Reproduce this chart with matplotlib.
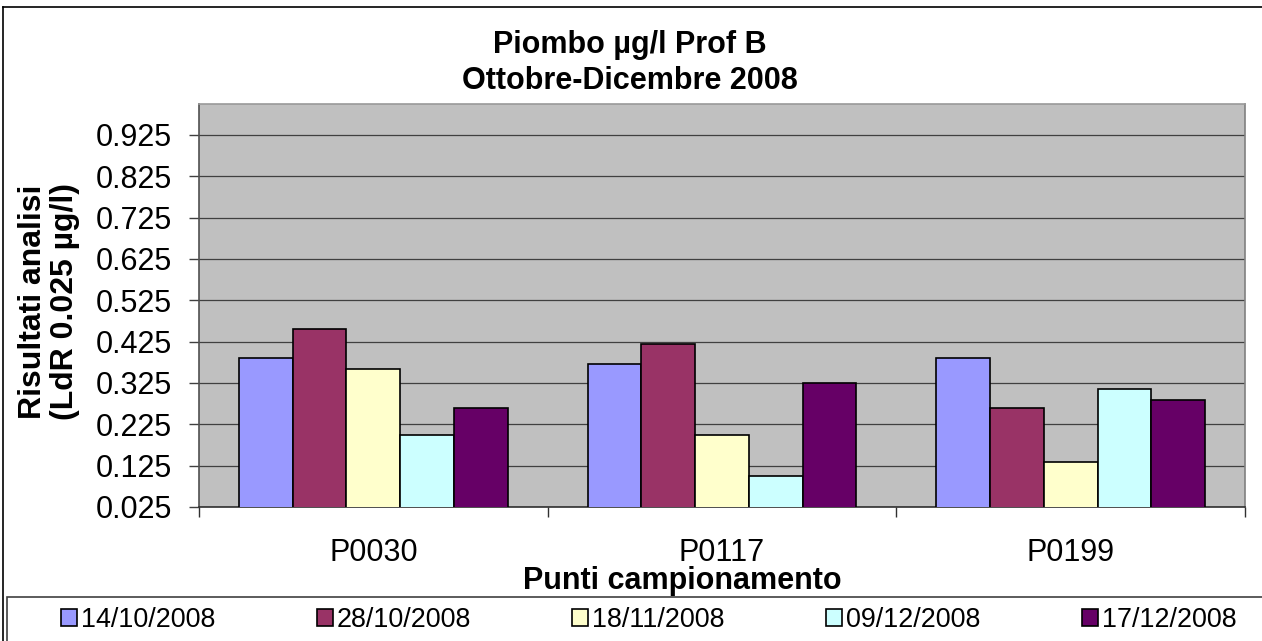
import numpy as np
import matplotlib
matplotlib.use("Agg")
from matplotlib import pyplot as plt
from matplotlib.patches import Rectangle
from matplotlib.lines import Line2D

plt.rcParams['font.family'] = ['Liberation Sans', 'DejaVu Sans']

# data
sites = ['P0030', 'P0117', 'P0199']
dates = ['14/10/2008', '28/10/2008', '18/11/2008', '09/12/2008', '17/12/2008']
val_1410 = [0.385, 0.370, 0.385]
val_2810 = [0.455, 0.420, 0.265]
val_1811 = [0.360, 0.200, 0.135]
val_0912 = [0.200, 0.100, 0.310]
val_1712 = [0.265, 0.325, 0.285]
series = [val_1410, val_2810, val_1811, val_0912, val_1712]
colors = ['#9999FF', '#993366', '#FFFFCC', '#CCFFFF', '#660066']
yticks = [0.025, 0.125, 0.225, 0.325, 0.425, 0.525, 0.625, 0.725, 0.825, 0.925]

W, H = 1262, 641
fig = plt.figure(figsize=(W / 100, H / 100), dpi=100)
ax = fig.add_axes([199 / W, 1 - 507 / H, (1245 - 199) / W, (507 - 104) / H])
ax.set_facecolor('#C0C0C0')

x = np.arange(len(sites))
bw = 0.154
bars = []
for i, vals in enumerate(series):
    b = ax.bar(x + (i - 2) * bw, vals, width=bw, color=colors[i],
               edgecolor='black', linewidth=1.2, label=dates[i], zorder=3)
    bars.append(b)

ax.set_xlim(-0.5, 2.5)
ax.set_ylim(0.025, 1.0)
ax.set_yticks(yticks)
ax.set_yticklabels(['%.3f' % v for v in yticks])
ax.yaxis.grid(True, color='#404040', linewidth=0.9)
ax.set_axisbelow(True)

ax.set_xticks(x)
ax.set_xticklabels(sites)
ax.set_xticks([-0.5, 0.5, 1.5, 2.5], minor=True)
ax.tick_params(axis='x', which='major', length=0, pad=22, labelsize=22)
ax.tick_params(axis='x', which='minor', length=7.2, width=1, color='#303030')
ax.tick_params(axis='y', length=7.2, width=1, color='#404040', pad=12, labelsize=22)

ax.spines['left'].set_color('#505050')
ax.spines['bottom'].set_color('#303030')
ax.spines['top'].set_color('#999999')
ax.spines['right'].set_color('#808080')
for s in ax.spines.values():
    s.set_linewidth(1.2)

# titles
fig.text(630 / W, 1 - 53 / H, 'Piombo µg/l Prof B', ha='center', va='baseline',
         fontsize=22, fontweight='bold')
fig.text(630 / W, 1 - 89 / H, 'Ottobre-Dicembre 2008', ha='center', va='baseline',
         fontsize=22, fontweight='bold')
fig.text(682 / W, 1 - 589 / H, 'Punti campionamento', ha='center', va='baseline',
         fontsize=22, fontweight='bold')
fig.text(49 / W, 1 - 302 / H, 'Risultati analisi\n(LdR 0.025 µg/l)', rotation=90,
         ha='center', va='center', multialignment='center', fontsize=23,
         fontweight='bold', linespacing=1.12)

# outer chart border (left and top only visible)
fig.add_artist(Line2D([3 / W, 3 / W], [0, 1 - 7 / H], color='black', linewidth=1.2))
fig.add_artist(Line2D([3 / W, 1], [1 - 7 / H, 1 - 7 / H], color='black', linewidth=1.2))

# legend box
fig.add_artist(Rectangle((7 / W, -0.05), 1.0, 0.05 + (641 - 597) / H, transform=fig.transFigure,
                         facecolor='white', edgecolor='#404040', linewidth=1.2))
leg = fig.legend(handles=bars, labels=dates, ncol=5, loc='center left',
                 bbox_to_anchor=(61 / W, 1 - 620 / H), frameon=False, fontsize=19.4,
                 handlelength=0.6, handleheight=0.6, handletextpad=0.15,
                 columnspacing=3.75, borderpad=0, borderaxespad=0)

fig.savefig('out.png', dpi=100)
